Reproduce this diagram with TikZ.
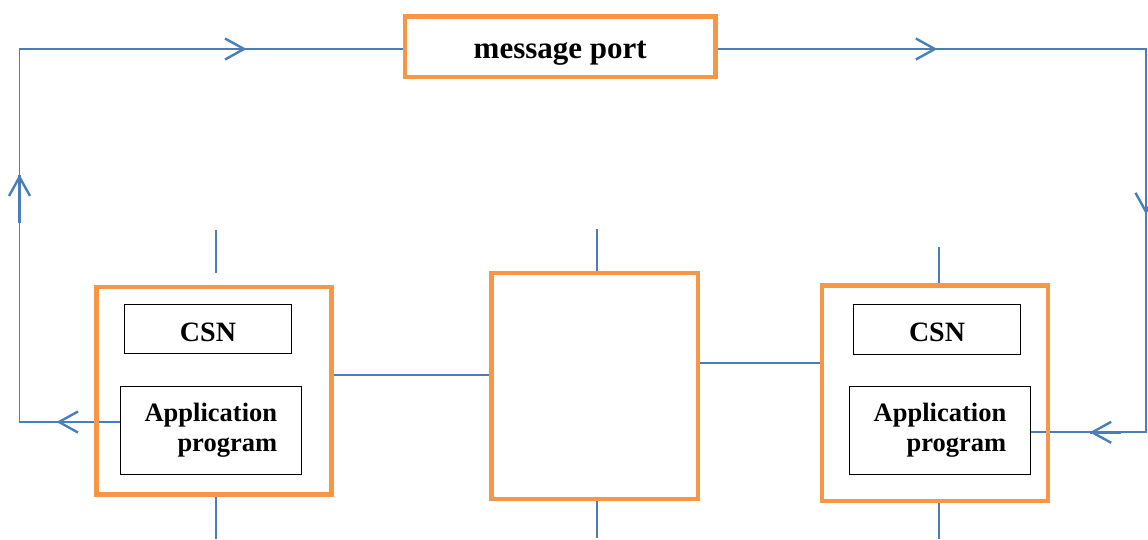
\documentclass[tikz,border=0pt]{standalone}
\usepackage{fontspec}
\setmainfont{Liberation Serif}
\usetikzlibrary{arrows.meta,decorations.markings,backgrounds}
\definecolor{portorange}{HTML}{F79646}
\definecolor{linkblue}{HTML}{4A7EBB}

% a flow tip along a link: position along the path, length of the heavier run-in
\pgfkeys{/pgf/decoration/flowtip/.style 2 args={
  mark=at position #1 with {
    \draw[linkblue, line width=2.6pt] (-#2,0) -- (0,0);
    \arrow{Straight Barb[length=19pt,width=21pt,line width=2.4pt,color=linkblue]}
  }}}

\begin{document}
\begin{tikzpicture}[x=1pt,y=-1pt,
  frame/.style={draw=portorange, line width=4.6pt, rectangle, inner sep=0pt},
  unit/.style={draw=black, line width=1pt, rectangle, inner sep=0pt,
    font=\bfseries\fontsize{26.5}{30}\selectfont, align=right},
  csn/.style={unit, font=\bfseries\fontsize{28}{32}\selectfont,
    text height=25.4pt, text depth=0pt},
  link/.style={draw=linkblue, line width=1.8pt},
]
\useasboundingbox (0,0) rectangle (1148,539);

% message port and the three stations
\node[frame, minimum width=310.5pt, minimum height=60.5pt,
      font=\bfseries\fontsize{31}{35}\selectfont,
      text height=30pt, text depth=6.7pt] (mp) at (560.25,46.75) {message port};
\node[frame, minimum width=235pt, minimum height=207.5pt] (lbox) at (214,390.75) {};
\node[frame, minimum width=206.5pt, minimum height=226pt] (mid) at (594.75,386) {};
\node[frame, minimum width=226pt, minimum height=215.5pt] (rbox) at (935,393.25) {};

\node[csn, minimum width=167.4pt, minimum height=49.7pt] (lcsn) at (208,329) {CSN};
\node[unit, minimum width=181.7pt, minimum height=87.3pt] (lapp) at (210.85,430.35) {Application\\program};
\node[csn, minimum width=167.4pt, minimum height=50pt] (rcsn) at (937,329) {CSN};
\node[unit, minimum width=181.4pt, minimum height=87.3pt] (rapp) at (940,430.35) {Application\\program};

% guide coordinates for the links
\coordinate (lx) at (19.5,0);
\coordinate (rx) at (1146,0);
\coordinate (ty) at (0,49);
\coordinate (lb) at (0,422);
\coordinate (rb) at (0,432.3);
\coordinate (ml) at (0,375);
\coordinate (mr) at (0,363.3);
\coordinate (ls1) at (215.7,230);
\coordinate (ls2) at (215.7,272.7);
\coordinate (lsb) at (215.7,539);
\coordinate (ms1) at (596.7,229.3);
\coordinate (msb) at (596.7,538);
\coordinate (rs1) at (939.3,247.3);
\coordinate (rsb) at (939.3,539);

\begin{scope}[on background layer]
  % stubs above and below the stations
  \draw[link] (ls1) -- (ls2);
  \draw[link] (ls1 |- lbox.south) -- (lsb);
  \draw[link] (ms1) -- (ms1 |- mid.north);
  \draw[link] (ms1 |- mid.south) -- (msb);
  \draw[link] (rs1) -- (rs1 |- rbox.north);
  \draw[link] (rs1 |- rbox.south) -- (rsb);
  % links between the stations
  \draw[link] (lbox.east |- ml) -- (mid.west |- ml);
  \draw[link] (mid.east |- mr) -- (rbox.west |- mr);
  % message loop through the port
  \draw[link, postaction=decorate,
        decoration={markings, flowtip={63pt}{38pt}, flowtip={347.5pt}{48pt}, flowtip={700pt}{58pt}}]
    (lapp.west |- lb) -- (lx |- lb) -- (lx |- ty) -- (mp.west |- ty);
  \draw[link, postaction=decorate,
        decoration={markings, flowtip={219.5pt}{55pt}, flowtip={593.5pt}{0pt}, flowtip={867.8pt}{31pt}}]
    (mp.east |- ty) -- (rx |- ty) -- (rx |- rb) -- (rapp.east |- rb);
\end{scope}
\end{tikzpicture}
\end{document}
